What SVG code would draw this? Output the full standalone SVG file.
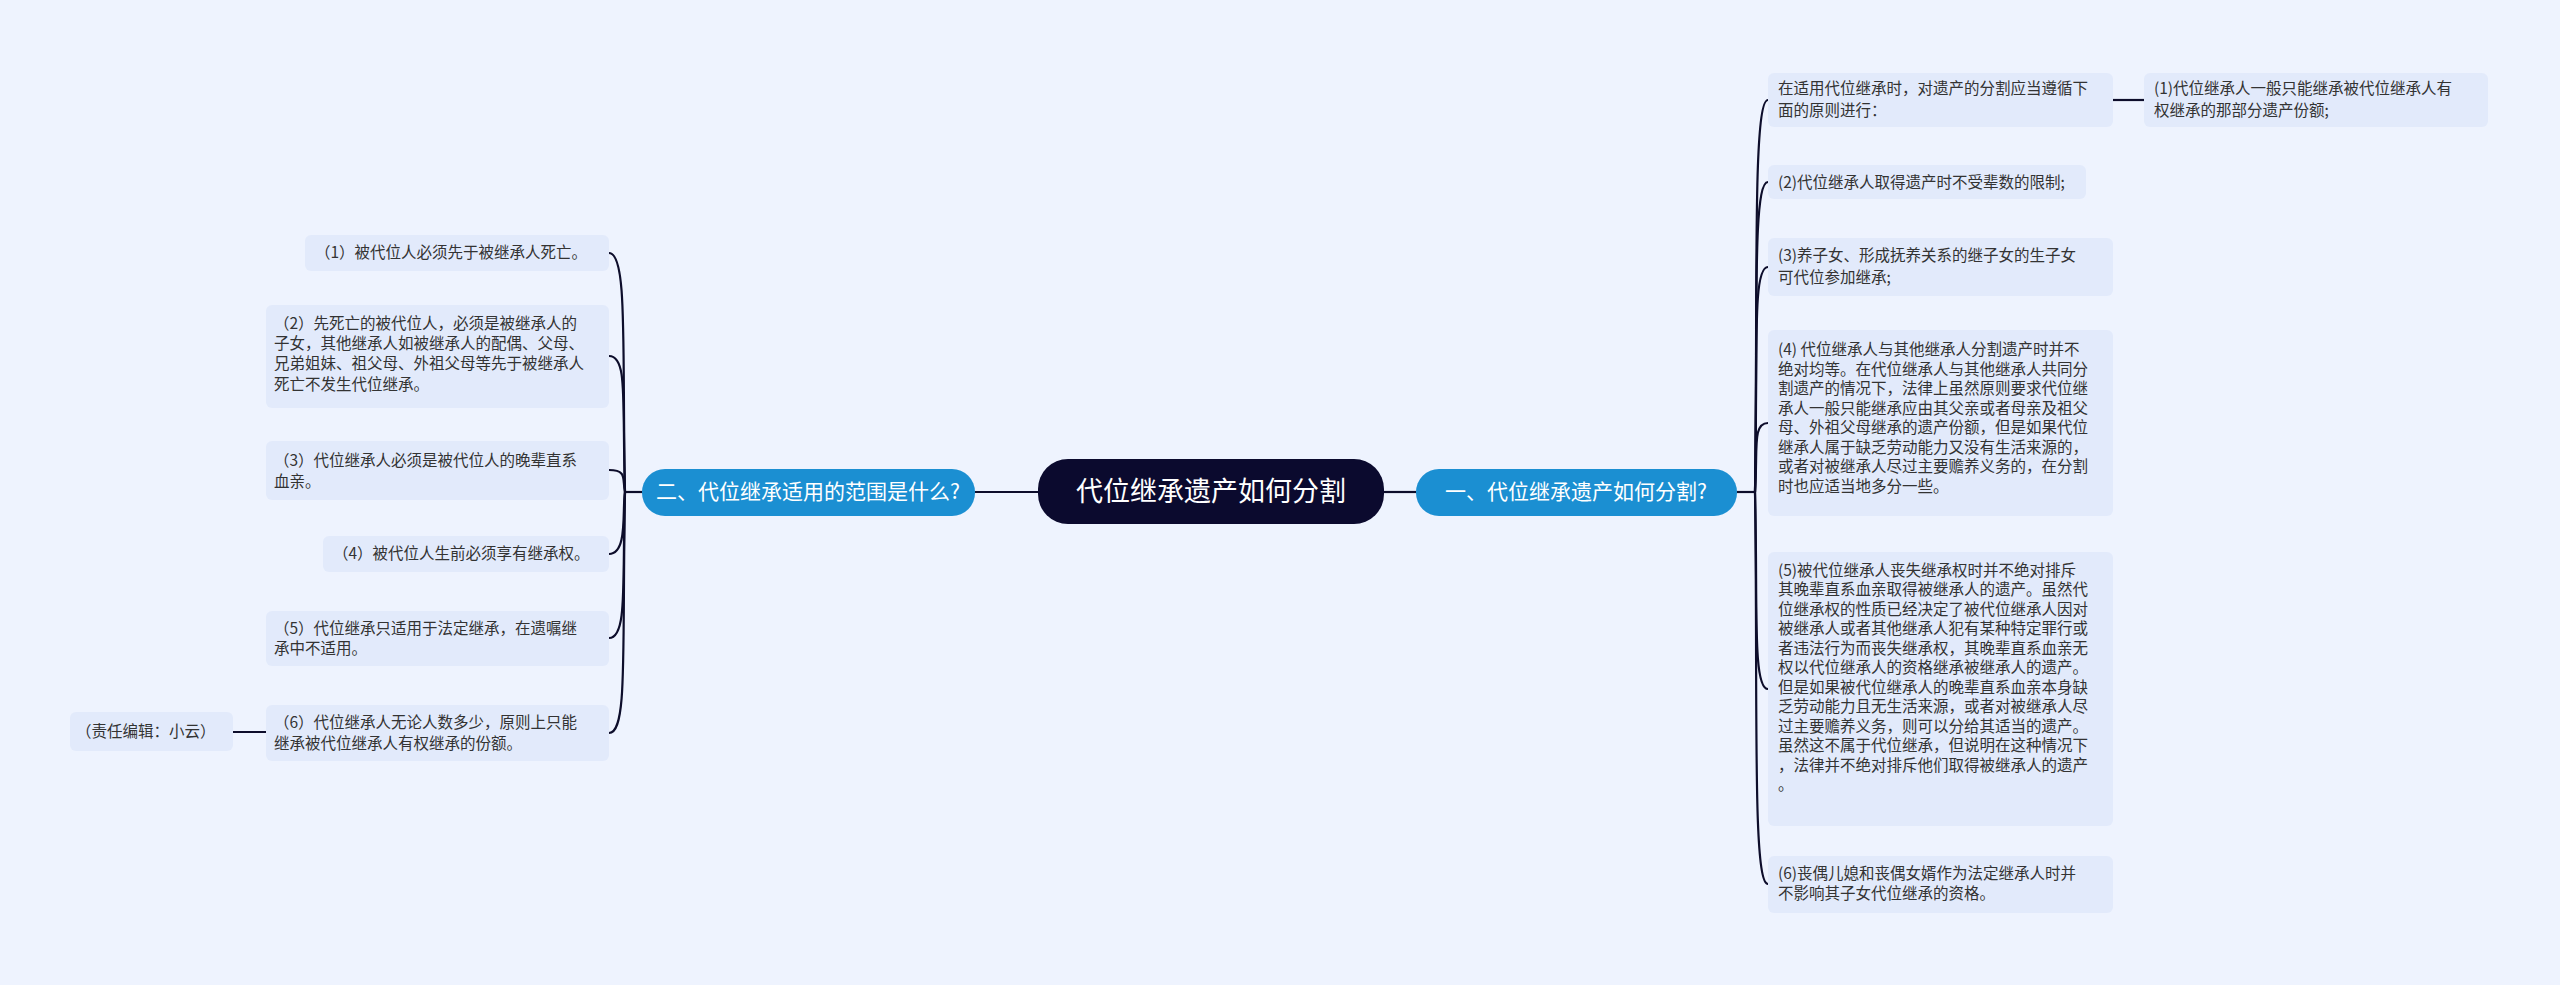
<svg xmlns="http://www.w3.org/2000/svg" width="2560" height="985" viewBox="0 0 2560 985">
<style>
text{font-family:"Noto Sans CJK SC","Noto Sans",sans-serif;}
.box{fill:#e2eafb;}
.t{font-size:15.5px;fill:#333;}
.br{fill:#1b8fd2;}
.bt{font-size:21px;fill:#fff;text-anchor:middle;}
.c{fill:none;stroke:#0d0d2b;stroke-width:2.2;}
</style>
<rect width="2560" height="985" fill="#eef3fe"/>
<g id="connectors">
<path class="c" d="M1384 492 L1416 492"/>
<path class="c" d="M975 492 L1038 492"/>
<path class="c" d="M1737 492 L1755 492"/>
<path class="c" d="M1755 492 C1758 300 1752 100 1768 100"/>
<path class="c" d="M1755 492 C1758 320 1752 182 1768 182"/>
<path class="c" d="M1755 492 C1758 350 1752 267 1768 267"/>
<path class="c" d="M1755 492 C1758 450 1752 423 1768 423"/>
<path class="c" d="M1755 492 C1758 600 1752 689 1768 689"/>
<path class="c" d="M1755 492 C1758 700 1752 884 1768 884"/>
<path class="c" d="M2113 100 L2144 100"/>
<path class="c" d="M642 492 L625 492"/>
<path class="c" d="M625 492 C622 350 628 253 609 253"/>
<path class="c" d="M625 492 C622 400 628 356 609 356"/>
<path class="c" d="M625 492 C622 480 628 470 609 470"/>
<path class="c" d="M625 492 C622 510 628 554 609 554"/>
<path class="c" d="M625 492 C622 580 628 638 609 638"/>
<path class="c" d="M625 492 C622 650 628 733 609 733"/>
<path class="c" d="M266 732 L233 732"/>
</g>
<g id="center"><rect x="1038" y="459" width="346" height="65" rx="30" fill="#0b0a2e"/><text x="1211" y="501" font-size="27" fill="#fff" text-anchor="middle">代位继承遗产如何分割</text></g>
<g id="b1"><rect class="br" x="1416" y="469" width="321" height="47" rx="23"/><text class="bt" x="1576" y="499">一、代位继承遗产如何分割?</text></g>
<g id="b2"><rect class="br" x="642" y="469" width="333" height="47" rx="23"/><text class="bt" x="808" y="499">二、代位继承适用的范围是什么?</text></g>
<g id="r1"><rect class="box" x="1768" y="73" width="345" height="54" rx="6"/><text class="t"><tspan x="1778" y="94">在适用代位继承时，对遗产的分割应当遵循下</tspan><tspan x="1778" y="116">面的原则进行：</tspan></text></g>
<g id="r1a"><rect class="box" x="2144" y="73" width="344" height="54" rx="6"/><text class="t"><tspan x="2154" y="94">(1)代位继承人一般只能继承被代位继承人有</tspan><tspan x="2154" y="116">权继承的那部分遗产份额;</tspan></text></g>
<g id="r2"><rect class="box" x="1768" y="165" width="318" height="34" rx="6"/><text class="t" x="1778" y="188">(2)代位继承人取得遗产时不受辈数的限制;</text></g>
<g id="r3"><rect class="box" x="1768" y="238" width="345" height="58" rx="6"/><text class="t"><tspan x="1778" y="261">(3)养子女、形成抚养关系的继子女的生子女</tspan><tspan x="1778" y="283">可代位参加继承;</tspan></text></g>
<g id="r4"><rect class="box" x="1768" y="330" width="345" height="186" rx="6"/><text class="t"><tspan x="1778" y="355">(4) 代位继承人与其他继承人分割遗产时并不</tspan><tspan x="1778" y="375">绝对均等。在代位继承人与其他继承人共同分</tspan><tspan x="1778" y="394">割遗产的情况下，法律上虽然原则要求代位继</tspan><tspan x="1778" y="414">承人一般只能继承应由其父亲或者母亲及祖父</tspan><tspan x="1778" y="433">母、外祖父母继承的遗产份额，但是如果代位</tspan><tspan x="1778" y="453">继承人属于缺乏劳动能力又没有生活来源的，</tspan><tspan x="1778" y="472">或者对被继承人尽过主要赡养义务的，在分割</tspan><tspan x="1778" y="492">时也应适当地多分一些。</tspan></text></g>
<g id="r5"><rect class="box" x="1768" y="552" width="345" height="274" rx="6"/><text class="t"><tspan x="1778" y="576">(5)被代位继承人丧失继承权时并不绝对排斥</tspan><tspan x="1778" y="595">其晚辈直系血亲取得被继承人的遗产。虽然代</tspan><tspan x="1778" y="615">位继承权的性质已经决定了被代位继承人因对</tspan><tspan x="1778" y="634">被继承人或者其他继承人犯有某种特定罪行或</tspan><tspan x="1778" y="654">者违法行为而丧失继承权，其晚辈直系血亲无</tspan><tspan x="1778" y="673">权以代位继承人的资格继承被继承人的遗产。</tspan><tspan x="1778" y="693">但是如果被代位继承人的晚辈直系血亲本身缺</tspan><tspan x="1778" y="712">乏劳动能力且无生活来源，或者对被继承人尽</tspan><tspan x="1778" y="732">过主要赡养义务，则可以分给其适当的遗产。</tspan><tspan x="1778" y="751">虽然这不属于代位继承，但说明在这种情况下</tspan><tspan x="1778" y="771">，法律并不绝对排斥他们取得被继承人的遗产</tspan><tspan x="1778" y="790">。</tspan></text></g>
<g id="r6"><rect class="box" x="1768" y="856" width="345" height="57" rx="6"/><text class="t"><tspan x="1778" y="879">(6)丧偶儿媳和丧偶女婿作为法定继承人时并</tspan><tspan x="1778" y="899">不影响其子女代位继承的资格。</tspan></text></g>
<g id="l1"><rect class="box" x="305" y="235" width="304" height="36" rx="6"/><text class="t" x="315" y="258">（1）被代位人必须先于被继承人死亡。</text></g>
<g id="l2"><rect class="box" x="266" y="305" width="343" height="103" rx="6"/><text class="t"><tspan x="274" y="329">（2）先死亡的被代位人，必须是被继承人的</tspan><tspan x="274" y="349">子女，其他继承人如被继承人的配偶、父母、</tspan><tspan x="274" y="369">兄弟姐妹、祖父母、外祖父母等先于被继承人</tspan><tspan x="274" y="390">死亡不发生代位继承。</tspan></text></g>
<g id="l3"><rect class="box" x="266" y="441" width="343" height="59" rx="6"/><text class="t"><tspan x="274" y="466">（3）代位继承人必须是被代位人的晚辈直系</tspan><tspan x="274" y="487">血亲。</tspan></text></g>
<g id="l4"><rect class="box" x="323" y="536" width="286" height="36" rx="6"/><text class="t" x="333" y="559">（4）被代位人生前必须享有继承权。</text></g>
<g id="l5"><rect class="box" x="266" y="611" width="343" height="55" rx="6"/><text class="t"><tspan x="274" y="634">（5）代位继承只适用于法定继承，在遗嘱继</tspan><tspan x="274" y="654">承中不适用。</tspan></text></g>
<g id="l6"><rect class="box" x="266" y="705" width="343" height="56" rx="6"/><text class="t"><tspan x="274" y="728">（6）代位继承人无论人数多少，原则上只能</tspan><tspan x="274" y="749">继承被代位继承人有权继承的份额。</tspan></text></g>
<g id="ed"><rect class="box" x="70" y="712" width="163" height="39" rx="6"/><text class="t" x="76" y="737">（责任编辑：小云）</text></g>
</svg>
